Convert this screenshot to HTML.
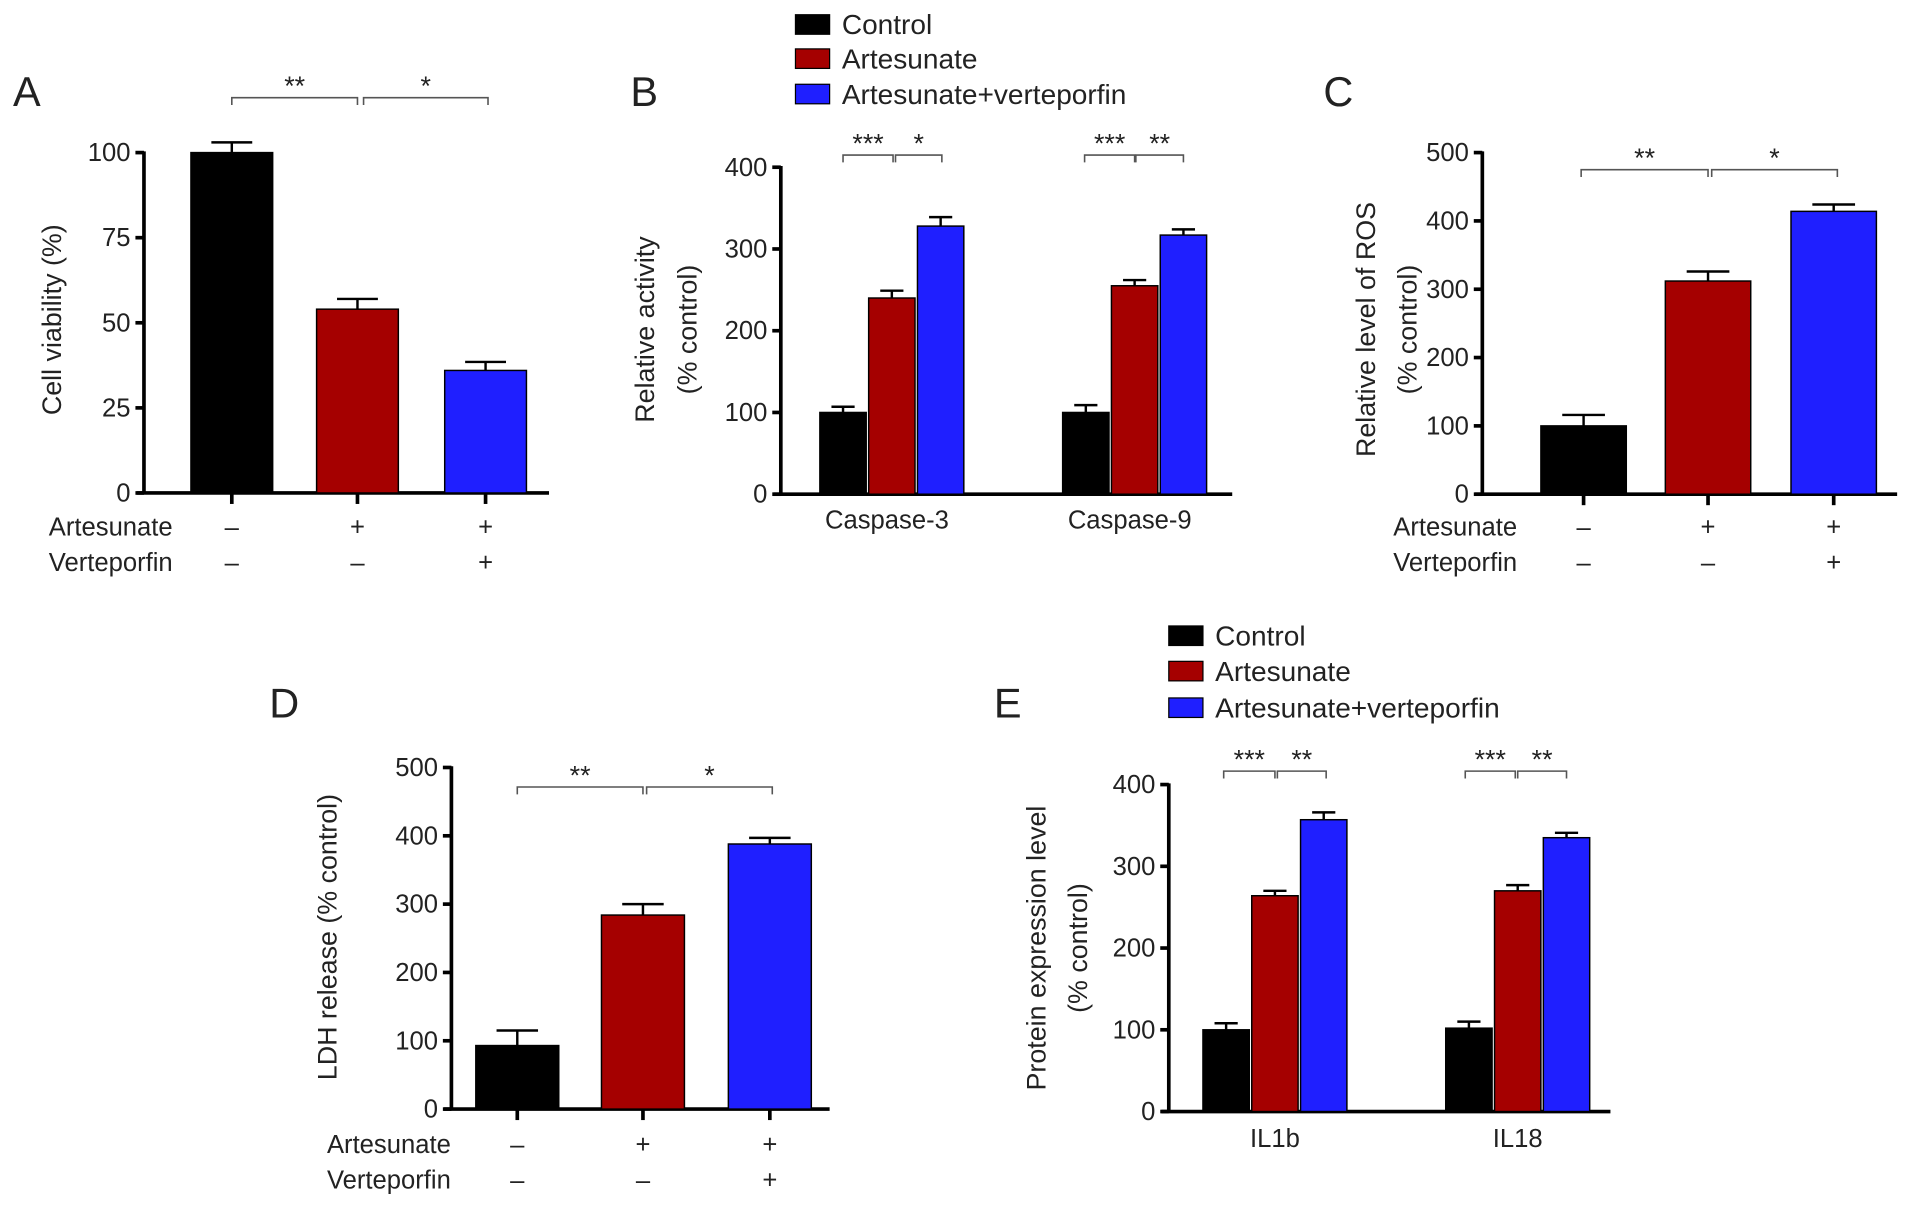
<!DOCTYPE html>
<html><head><meta charset="utf-8"><style>
html,body{margin:0;padding:0;background:#fff;}
svg{display:block;font-family:"Liberation Sans",Arial,sans-serif;}
</style></head><body>
<svg id="fig" width="1913" height="1208" viewBox="0 0 1568 990" xmlns="http://www.w3.org/2000/svg"></svg>
<script>
// ---- data ----
const aValues = [100, 54, 36];
const aErr = [3, 3, 2.5];
const bCategories = ["Caspase-3", "Caspase-9"];
const bControl = [100, 100];
const bArt = [240, 255];
const bArtVer = [328, 317];
const bErr = [[7, 9], [9, 7], [11, 7]];
const cValues = [100, 312, 414];
const cErr = [16, 14, 10];
const dValues = [93, 284, 388];
const dErr = [22, 16, 9];
const eCategories = ["IL1b", "IL18"];
const eControl = [100, 102];
const eArt = [264, 270];
const eArtVer = [357, 335];
const eErr = [[8, 8], [6, 7], [9, 6]];
const ticksA = [0, 25, 50, 75, 100];
const ticksB = [0, 100, 200, 300, 400];
const ticksC = [0, 100, 200, 300, 400, 500];
const legendLabels = ["Control", "Artesunate", "Artesunate+verteporfin"];
const colors = ["#000000", "#a50000", "#1f1fff"];

const svg = document.getElementById('fig');
const NS = 'http://www.w3.org/2000/svg';
function mk(tag, attrs, parent, text) {
  const e = document.createElementNS(NS, tag);
  for (const k in attrs) e.setAttribute(k, attrs[k]);
  if (text !== undefined) e.textContent = text;
  (parent || svg).appendChild(e);
  return e;
}
function txt(x, y, s, size, anchor, name, rot, parent) {
  const t = mk('text', {x: x, y: y, 'font-size': size, 'text-anchor': anchor || 'middle', fill: '#222'}, parent, s);
  if (rot) t.setAttribute('transform', 'rotate(-90 ' + x + ' ' + y + ')');
  
  
  return t;
}

function axes(g, x0, y0, yTop, xEnd, ticks, maxV, pfx) {
  const yScale = v => y0 - (v / maxV) * (y0 - yTop);
  const ya = mk('line', {x1: x0, y1: y0 + 1, x2: x0, y2: yTop - 1, stroke: '#000', 'stroke-width': 3}, g);
  
  
  const xa = mk('line', {x1: x0 - 6, y1: y0, x2: xEnd, y2: y0, stroke: '#000', 'stroke-width': 3}, g);
  
  
  ticks.forEach(v => {
    const y = yScale(v);
    mk('line', {x1: x0 - 7, y1: y, x2: x0, y2: y, stroke: '#000', 'stroke-width': 3}, g);
    txt(x0 - 11, y + 7, String(v), 21, 'end', pfx + '-y-tick-label', false, g);
  });
  return yScale;
}
function bar(g, cx, w, val, err, color, yScale, y0, name) {
  const yt = yScale(val);
  const r = mk('rect', {x: cx - w / 2, y: yt, width: w, height: y0 - yt, fill: color, stroke: '#000', 'stroke-width': 1.2}, g);
  
  
  const ye = yScale(val + err);
  mk('line', {x1: cx, y1: yt, x2: cx, y2: ye, stroke: '#000', 'stroke-width': 2}, g);
  mk('line', {x1: cx - w * 0.25, y1: ye, x2: cx + w * 0.25, y2: ye, stroke: '#000', 'stroke-width': 2}, g);
}
function bracket(g, x1, x2, y, stars, name) {
  const p = mk('path', {d: 'M' + x1 + ' ' + (y + 6) + ' V' + y + ' H' + x2 + ' V' + (y + 6), fill: 'none', stroke: '#555', 'stroke-width': 1.3}, g);
  
  
  txt((x1 + x2) / 2, y - 2, stars, 22, 'middle', name + '-stars', false, g);
}
function signs(g, xs, y0, y1, y2, labelX, art, ver, pfx) {
  txt(labelX, y1 + 7, 'Artesunate', 21, 'start', pfx + '-artesunate-label', false, g);
  txt(labelX, y2 + 7, 'Verteporfin', 21, 'start', pfx + '-verteporfin-label', false, g);
  xs.forEach((x, i) => {
    mk('line', {x1: x, y1: y0, x2: x, y2: y0 + 9, stroke: '#000', 'stroke-width': 3}, g);
    txt(x, y1 + 7, art[i], 21, 'middle', pfx + '-artesunate-sign', false, g);
    txt(x, y2 + 7, ver[i], 21, 'middle', pfx + '-verteporfin-sign', false, g);
  });
}
function legend(g, x, ys, pfx) {
  legendLabels.forEach((l, i) => {
    const r = mk('rect', {x: x, y: ys[i] - 8, width: 28, height: 16, fill: colors[i], stroke: '#000', 'stroke-width': 1}, g);
    
    
    txt(x + 38, ys[i] + 8, l, 23, 'start', pfx + '-legend-entry', false, g);
  });
}
function group(name) {
  const g = mk('g', {});
  
  
  return g;
}
const signA = ['\u2013', '+', '+'], signV = ['\u2013', '\u2013', '+'];

// ---- Panel A ----
(function () {
  const g = group('panel-a');
  txt(22, 87, 'A', 34, 'middle', 'panel-a-letter', false, g);
  const y0 = 404, ys = axes(g, 118, y0, 125, 450, ticksA, 100, 'panel-a');
  const xs = [190, 293, 398];
  aValues.forEach((v, i) => bar(g, xs[i], 67, v, aErr[i], colors[i], ys, y0, 'panel-a-bar-' + i));
  txt(50, 262, 'Cell viability (%)', 22, 'middle', 'panel-a-y-axis-title', true, g);
  bracket(g, 190, 293, 80, '**', 'panel-a-bracket-1');
  bracket(g, 298, 400, 80, '*', 'panel-a-bracket-2');
  signs(g, xs, y0, 432, 461, 40, signA, signV, 'panel-a');
})();

// ---- Panel B ----
(function () {
  const g = group('panel-b');
  txt(528, 87, 'B', 34, 'middle', 'panel-b-letter', false, g);
  legend(g, 652, [20, 48, 77], 'panel-b');
  const y0 = 405, ys = axes(g, 640, y0, 137, 1010, ticksB, 400, 'panel-b');
  const centers = [731, 930], series = [bControl, bArt, bArtVer];
  bCategories.forEach((c, j) => {
    series.forEach((s, i) => bar(g, centers[j] + (i - 1) * 40, 38, s[j], bErr[i][j], colors[i], ys, y0, 'panel-b-bar-' + c + '-' + i));
    txt(centers[j] - 4, 433, c, 21, 'middle', 'panel-b-x-label', false, g);
  });
  txt(536, 270, 'Relative activity', 22, 'middle', 'panel-b-y-axis-title', true, g);
  txt(571, 270, '(% control)', 22, 'middle', 'panel-b-y-axis-subtitle', true, g);
  bracket(g, 691, 732, 127, '***', 'panel-b-bracket-1');
  bracket(g, 734, 772, 127, '*', 'panel-b-bracket-2');
  bracket(g, 889, 930, 127, '***', 'panel-b-bracket-3');
  bracket(g, 931, 970, 127, '**', 'panel-b-bracket-4');
})();

// ---- Panel C ----
(function () {
  const g = group('panel-c');
  txt(1097, 87, 'C', 34, 'middle', 'panel-c-letter', false, g);
  const y0 = 405, ys = axes(g, 1215, y0, 125, 1555, ticksC, 500, 'panel-c');
  const xs = [1298, 1400, 1503];
  cValues.forEach((v, i) => bar(g, xs[i], 70, v, cErr[i], colors[i], ys, y0, 'panel-c-bar-' + i));
  txt(1127, 270, 'Relative level of ROS', 22, 'middle', 'panel-c-y-axis-title', true, g);
  txt(1161, 270, '(% control)', 22, 'middle', 'panel-c-y-axis-subtitle', true, g);
  bracket(g, 1296, 1400, 139, '**', 'panel-c-bracket-1');
  bracket(g, 1403, 1506, 139, '*', 'panel-c-bracket-2');
  signs(g, xs, y0, 432, 461, 1142, signA, signV, 'panel-c');
})();

// ---- Panel D ----
(function () {
  const g = group('panel-d');
  txt(233, 588, 'D', 34, 'middle', 'panel-d-letter', false, g);
  const y0 = 909, ys = axes(g, 370, y0, 629, 680, ticksC, 500, 'panel-d');
  const xs = [424, 527, 631];
  dValues.forEach((v, i) => bar(g, xs[i], 68, v, dErr[i], colors[i], ys, y0, 'panel-d-bar-' + i));
  txt(276, 768, 'LDH release (% control)', 22, 'middle', 'panel-d-y-axis-title', true, g);
  bracket(g, 424, 527, 645, '**', 'panel-d-bracket-1');
  bracket(g, 530, 633, 645, '*', 'panel-d-bracket-2');
  signs(g, xs, y0, 938, 967, 268, signA, signV, 'panel-d');
})();

// ---- Panel E ----
(function () {
  const g = group('panel-e');
  txt(826, 588, 'E', 34, 'middle', 'panel-e-letter', false, g);
  legend(g, 958, [521, 550, 580], 'panel-e');
  const y0 = 911, ys = axes(g, 958, y0, 643, 1320, ticksB, 400, 'panel-e');
  const centers = [1045, 1244], series = [eControl, eArt, eArtVer];
  eCategories.forEach((c, j) => {
    series.forEach((s, i) => bar(g, centers[j] + (i - 1) * 40, 38, s[j], eErr[i][j], colors[i], ys, y0, 'panel-e-bar-' + c + '-' + i));
    txt(centers[j], 940, c, 21, 'middle', 'panel-e-x-label', false, g);
  });
  txt(857, 777, 'Protein expression level', 22, 'middle', 'panel-e-y-axis-title', true, g);
  txt(891, 777, '(% control)', 22, 'middle', 'panel-e-y-axis-subtitle', true, g);
  bracket(g, 1003, 1045, 632, '***', 'panel-e-bracket-1');
  bracket(g, 1047, 1087, 632, '**', 'panel-e-bracket-2');
  bracket(g, 1201, 1242, 632, '***', 'panel-e-bracket-3');
  bracket(g, 1244, 1284, 632, '**', 'panel-e-bracket-4');
})();
</script>
</body></html>
